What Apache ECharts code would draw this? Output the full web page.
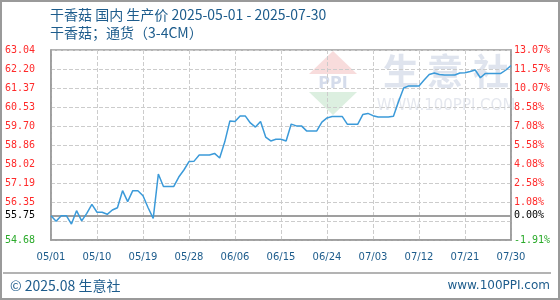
<!DOCTYPE html>
<html>
<head>
<meta charset="utf-8">
<script src="https://cdn.jsdelivr.net/npm/echarts@6/dist/echarts.min.js"></script>
<style>
html,body{margin:0;padding:0;background:#fff;}
#chart{width:560px;height:300px;}
</style>
</head>
<body>
<div id="chart"></div>
<script>
var titleText = '干香菇 国内 生产价 2025-05-01 - 2025-07-30';
var subtitleText = '干香菇；通货（3-4CM）';
var footerLeft = '© 2025.08 生意社';
var footerRight = 'www.100PPI.com';

var dates = [
'05/01','05/02','05/03','05/04','05/05','05/06','05/07','05/08','05/09','05/10',
'05/11','05/12','05/13','05/14','05/15','05/16','05/17','05/18','05/19','05/20',
'05/21','05/22','05/23','05/24','05/25','05/26','05/27','05/28','05/29','05/30',
'05/31','06/01','06/02','06/03','06/04','06/05','06/06','06/07','06/08','06/09',
'06/10','06/11','06/12','06/13','06/14','06/15','06/16','06/17','06/18','06/19',
'06/20','06/21','06/22','06/23','06/24','06/25','06/26','06/27','06/28','06/29',
'06/30','07/01','07/02','07/03','07/04','07/05','07/06','07/07','07/08','07/09',
'07/10','07/11','07/12','07/13','07/14','07/15','07/16','07/17','07/18','07/19',
'07/20','07/21','07/22','07/23','07/24','07/25','07/26','07/27','07/28','07/29',
'07/30'];

var prices = [
55.75,55.50,55.75,55.75,55.38,55.97,55.52,55.85,56.25,55.90,
55.90,55.81,56.00,56.10,56.85,56.37,56.85,56.85,56.63,56.10,
55.63,57.58,57.03,57.03,57.03,57.45,57.76,58.13,58.15,58.42,
58.42,58.42,58.49,58.29,59.00,59.92,59.89,60.14,60.14,59.83,
59.65,59.89,59.21,59.04,59.11,59.11,59.04,59.78,59.70,59.70,
59.48,59.48,59.48,59.87,60.05,60.11,60.11,60.11,59.77,59.77,
59.77,60.20,60.25,60.15,60.09,60.09,60.09,60.12,60.77,61.37,
61.46,61.46,61.46,61.72,61.96,62.03,61.96,61.94,61.94,61.94,
62.03,62.04,62.09,62.16,61.82,62.01,62.01,62.01,62.01,62.16,
62.36];

var basePrice = 55.75;
var baseLabel = '55.75';
var baseRightLabel = '0.00%';
var priceMin = 54.68;
var priceMax = 63.04;
var leftTickLabels = ['54.68','','56.35','57.19','58.02','58.86','59.70','60.53','61.37','62.20','63.04'];
var rightTickLabels = ['-1.91%','','1.08%','2.58%','4.08%','5.58%','7.08%','8.58%','10.07%','11.57%','13.07%'];

var chart = echarts.init(document.getElementById('chart'), null, {renderer:'canvas'});
var mono = '"DejaVu Sans Mono", monospace';
var blue = '#1d5c8c';

function tickFmt(arr){
  return function(v){
    var i = Math.round(v);
    var s = arr[i];
    if (!s) return '';
    return (i === 0 ? '{g|' : '{r|') + s + '}';
  };
}
var tickRich = {
  r:{color:'#ff2a2a', fontFamily:mono, fontSize:10},
  g:{color:'#2aaa2a', fontFamily:mono, fontSize:10}
};

var option = {
  animation:false,
  backgroundColor:'#fff',
  grid:{left:51, right:49, top:50, bottom:60, show:true, borderColor:'#999', borderWidth:1.5, backgroundColor:'transparent'},
  graphic:[
    {type:'rect', z:100, shape:{x:1,y:1,width:558,height:298}, style:{fill:'none', stroke:'#9a9a9a', lineWidth:2}},
    {type:'line', z:100, shape:{x1:3,y1:273,x2:551,y2:273}, style:{stroke:'#9a9a9a', lineWidth:1.5}},
    {type:'text', x:50, y:15, style:{text:titleText, fill:blue, font:'14px "Noto Sans CJK SC", sans-serif', textVerticalAlign:'middle'}},
    {type:'text', x:50, y:33, style:{text:subtitleText, fill:blue, font:'14px "Noto Sans CJK SC", sans-serif', textVerticalAlign:'middle'}},
    {type:'text', x:10, y:286, style:{text:footerLeft, fill:blue, font:'14px "Noto Sans CJK SC", sans-serif', textVerticalAlign:'middle'}},
    {type:'text', x:550, y:286, style:{text:footerRight, fill:blue, font:'12px "DejaVu Sans", sans-serif', textVerticalAlign:'middle', textAlign:'right'}},
    // watermark logo
    {type:'polygon', z:-1, shape:{points:[[333,51],[309,74],[357,74]]}, style:{fill:'#f8dcdc'}},
    {type:'polygon', z:-1, shape:{points:[[309,92],[357,92],[333,115]]}, style:{fill:'#dcefe0'}},
    {type:'text', z:-1, x:333, y:84, style:{text:'PPI', fill:'#d5dceb', font:'bold 16px "DejaVu Sans", sans-serif', textAlign:'center', textVerticalAlign:'middle'}},
    {type:'text', z:-1, x:401, y:71, style:{text:'生', fill:'#dfe4ee', font:'bold 36px "Noto Sans CJK SC", sans-serif', textAlign:'center', textVerticalAlign:'middle'}},
    {type:'text', z:-1, x:445, y:71, style:{text:'意', fill:'#dfe4ee', font:'bold 36px "Noto Sans CJK SC", sans-serif', textAlign:'center', textVerticalAlign:'middle'}},
    {type:'text', z:-1, x:491, y:71, style:{text:'社', fill:'#dfe4ee', font:'bold 36px "Noto Sans CJK SC", sans-serif', textAlign:'center', textVerticalAlign:'middle'}},
    {type:'text', z:-1, x:446, y:106, style:{text:'WWW.100PPI.COM', fill:'#e4e7ee', font:'15px "DejaVu Sans", sans-serif', textAlign:'center', textVerticalAlign:'middle'}}
  ],
  xAxis:{
    type:'category', data:dates, boundaryGap:false,
    axisLine:{show:true, lineStyle:{color:'#999', width:1.5}},
    axisTick:{show:false},
    axisLabel:{interval:8, color:blue, fontSize:10, fontFamily:'"DejaVu Sans", sans-serif', margin:12},
    splitLine:{show:true, interval:8, lineStyle:{type:'dashed', color:'#cccccc', width:1}}
  },
  yAxis:[
    {type:'value', position:'left', min:0, max:10, interval:1,
     axisLine:{show:true, lineStyle:{color:'#999', width:1.5}}, axisTick:{show:false},
     axisLabel:{formatter:tickFmt(leftTickLabels), rich:tickRich, margin:16},
     splitLine:{show:true, lineStyle:{type:'dashed', color:'#cccccc', width:1}}},
    {type:'value', position:'right', min:0, max:10, interval:1,
     axisLine:{show:true, lineStyle:{color:'#999', width:1.5}}, axisTick:{show:false},
     axisLabel:{formatter:tickFmt(rightTickLabels), rich:tickRich, margin:3},
     splitLine:{show:false}},
    {type:'value', show:false, min:priceMin, max:priceMax, splitLine:{show:false}}
  ],
  series:[{
    type:'line', yAxisIndex:2, data:prices, showSymbol:false, symbol:'none',
    lineStyle:{color:'#3b9ad9', width:1.5}, z:5,
    markLine:{
      silent:true, symbol:'none', animation:false,
      lineStyle:{color:'#999', type:'solid', width:1.5},
      data:[
        {yAxis:basePrice, label:{show:true, position:'start', distance:16, formatter:baseLabel, color:'#000', fontFamily:mono, fontSize:10}},
        {yAxis:basePrice, label:{show:true, position:'end', distance:3, formatter:baseRightLabel, color:'#000', fontFamily:mono, fontSize:10}}
      ]
    }
  }]
};
chart.setOption(option);
</script>
</body>
</html>
